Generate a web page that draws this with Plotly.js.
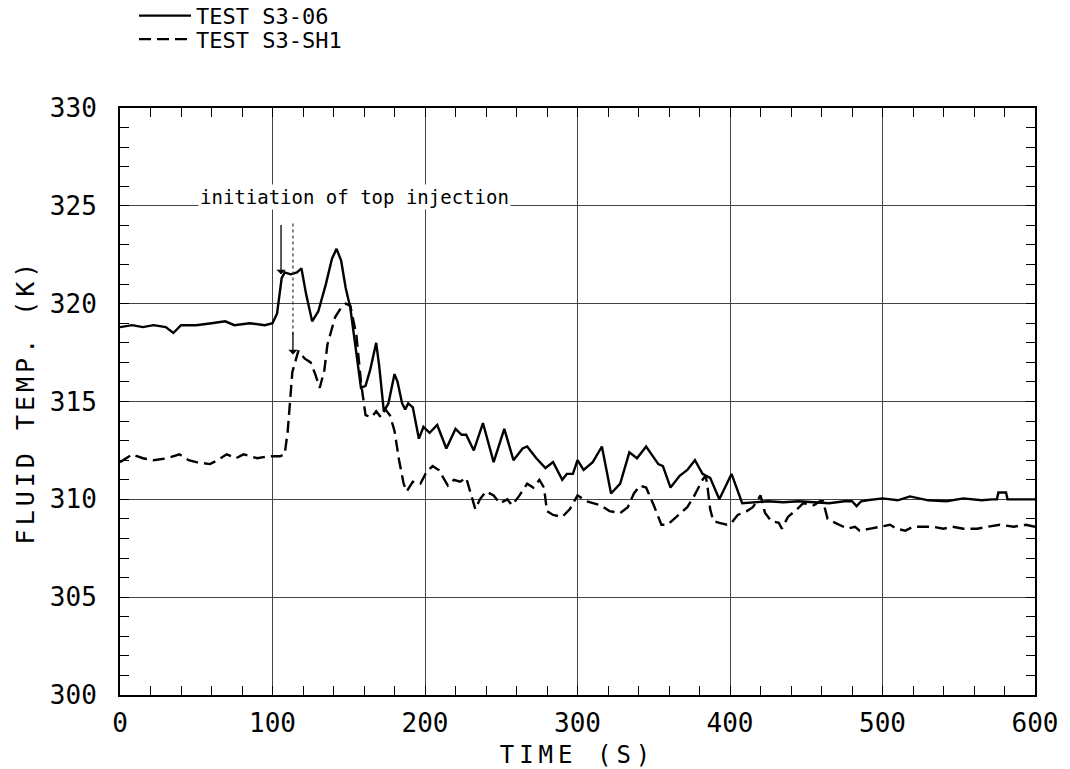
<!DOCTYPE html>
<html>
<head>
<meta charset="utf-8">
<script src="https://cdn.plot.ly/plotly-3.0.1.min.js"></script>
<style>html,body{margin:0;padding:0;background:#fff;}#chart{width:1070px;height:769px;}</style>
</head>
<body>
<div id="chart"></div>
<script>
// Series names
const seriesNames = ["TEST S3-06", "TEST S3-SH1"];

// TEST S3-06 (solid)
const timeS306 = [0, 8, 15, 22, 30, 35, 40, 50, 60, 69, 75, 85, 95, 100, 103, 106, 108, 112, 116, 119, 122, 126, 130, 135, 139, 142, 145, 148, 151, 155, 158, 161, 164, 168, 170, 173, 176, 180, 182, 185, 187, 189, 192, 196, 199, 203, 208, 214, 220, 224, 227, 232, 238, 245, 252, 258, 264, 267, 273, 279, 284, 290, 293, 297, 300, 304, 310, 316, 322, 328, 334, 339, 345, 353, 356, 361, 367, 372, 377, 382, 387, 393, 401, 408, 415, 425, 435, 445, 455, 465, 475, 480, 483, 486, 490, 500, 510, 518, 530, 542, 553, 565, 572, 575, 576, 581, 582, 590, 600];
const tempS306 = [318.8, 318.9, 318.8, 318.9, 318.8, 318.5, 318.9, 318.9, 319.0, 319.1, 318.9, 319.0, 318.9, 319.0, 319.5, 321.3, 321.6, 321.5, 321.6, 321.8, 320.5, 319.1, 319.6, 321.0, 322.3, 322.8, 322.2, 320.8, 319.8, 317.5, 315.7, 315.8, 316.6, 318.0, 316.8, 314.5, 314.9, 316.4, 316.0, 314.9, 314.6, 314.9, 314.7, 313.1, 313.7, 313.4, 313.8, 312.6, 313.6, 313.3, 313.3, 312.5, 313.9, 311.9, 313.6, 312.0, 312.6, 312.7, 312.1, 311.6, 311.9, 311.0, 311.3, 311.3, 312.0, 311.5, 311.9, 312.7, 310.3, 310.8, 312.4, 312.1, 312.7, 311.8, 311.7, 310.6, 311.2, 311.5, 312.0, 311.3, 311.1, 310.0, 311.3, 309.8, 309.85, 309.9, 309.85, 309.9, 309.85, 309.8, 309.9, 309.9, 309.65, 309.9, 309.95, 310.05, 309.95, 310.15, 309.95, 309.9, 310.05, 309.95, 310.0, 310.0, 310.35, 310.35, 310.0, 310.0, 310.0];

// TEST S3-SH1 (dashed)
const timeSH1 = [0, 8, 15, 22, 31, 39, 45, 50, 59, 64, 70, 76, 81, 90, 97, 105, 108, 110, 113, 117, 121, 125, 128, 131, 134, 136, 141, 145, 148, 151, 155, 158, 161, 165, 168, 171, 174, 177, 180, 183, 186, 188, 192, 197, 201, 205, 209, 212, 215, 219, 223, 227, 230, 233, 236, 240, 245, 249, 254, 257, 262, 267, 271, 275, 278, 280, 284, 290, 295, 300, 306, 315, 321, 328, 333, 337, 341, 345, 350, 355, 359, 365, 372, 376, 382, 384, 385, 387, 389, 393, 398, 401, 405, 411, 415, 420, 423, 427, 432, 434, 438, 444, 448, 455, 459, 461, 464, 469, 477, 482, 485, 492, 498, 505, 509, 515, 520, 527, 533, 540, 546, 553, 562, 569, 577, 586, 594, 600];
const tempSH1 = [311.9, 312.3, 312.1, 312.0, 312.1, 312.3, 312.0, 311.9, 311.8, 312.0, 312.3, 312.1, 312.3, 312.1, 312.2, 312.2, 312.3, 313.5, 316.5, 317.6, 317.2, 317.0, 316.4, 315.7, 316.6, 317.9, 319.3, 319.8, 320.0, 319.9, 318.4, 316.0, 314.3, 314.2, 314.5, 314.2, 314.6, 314.3, 313.5, 312.0, 310.8, 310.4, 310.9, 310.8, 311.4, 311.7, 311.5, 311.1, 310.7, 311.0, 310.9, 311.1, 310.3, 309.5, 310.0, 310.4, 310.2, 309.8, 310.0, 309.7, 310.2, 310.8, 310.6, 311.0, 310.6, 309.4, 309.2, 309.1, 309.5, 310.2, 309.9, 309.7, 309.4, 309.3, 309.6, 310.3, 310.7, 310.6, 309.7, 308.7, 308.7, 309.1, 309.6, 310.1, 311.0, 311.2, 310.8, 309.5, 308.9, 308.8, 308.7, 308.8, 309.2, 309.4, 309.6, 310.2, 309.3, 308.9, 308.8, 308.5, 309.1, 309.5, 309.8, 309.7, 309.9, 309.9, 309.0, 308.8, 308.5, 308.6, 308.4, 308.5, 308.6, 308.7, 308.5, 308.4, 308.6, 308.6, 308.6, 308.5, 308.6, 308.5, 308.5, 308.6, 308.7, 308.6, 308.7, 308.6];

// Axis ticks
const xTicks = [0, 100, 200, 300, 400, 500, 600];
const yTicks = [300, 305, 310, 315, 320, 325, 330];

// Annotation content
const noteText = "initiation of top injection";
const noteTime = 154, noteTemp = 325;
const arrowTimes = [105.6, 113.4];
const arrowTips = [321.5, 317.4];
const arrowStart = 324.1;

const FONT = "DejaVu Sans Mono, monospace";

const traces = [
  {x: timeS306, y: tempS306, name: seriesNames[0], type: "scatter", mode: "lines", legend: "legend",
   line: {color: "#000", width: 2.4, dash: "solid"}},
  {x: timeSH1, y: tempSH1, name: seriesNames[1], type: "scatter", mode: "lines", legend: "legend2",
   line: {color: "#000", width: 2.4, dash: "12px,6px"}}
];

const legendBase = {x: 0.0153, xanchor: "left", yanchor: "middle",
  font: {family: FONT, size: 22, color: "#000"},
  bgcolor: "rgba(0,0,0,0)", itemwidth: 52, tracegroupgap: 0, borderwidth: 0};

const layout = {
  width: 1070, height: 769,
  margin: {l: 120, r: 35, t: 108, b: 74, pad: 0, autoexpand: false},
  paper_bgcolor: "#fff", plot_bgcolor: "#fff",
  font: {family: FONT, color: "#000"},
  showlegend: true,
  legend: Object.assign({}, legendBase, {y: 1.157}),
  legend2: Object.assign({}, legendBase, {y: 1.117}),
  xaxis: {range: [0, 600], tickvals: xTicks, ticktext: xTicks.map(String),
          showgrid: true, gridcolor: "#444", gridwidth: 1, zeroline: false,
          showline: true, linecolor: "#000", linewidth: 2, mirror: "ticks",
          ticks: "inside", ticklen: 9, tickwidth: 1, tickcolor: "#000",
          minor: {dtick: 20, ticks: "inside", ticklen: 9, tickcolor: "#000", tickwidth: 1, showgrid: false},
          tickfont: {family: FONT, size: 26, color: "#000"}, ticklabelstandoff: 4,
          title: {text: '<span style="letter-spacing:5px">TIME (S)</span>', font: {family: FONT, size: 24, color: "#000"}, standoff: 10}},
  yaxis: {range: [300, 330], tickvals: yTicks, ticktext: yTicks.map(String),
          showgrid: true, gridcolor: "#444", gridwidth: 1, zeroline: false,
          showline: true, linecolor: "#000", linewidth: 2, mirror: "ticks",
          ticks: "inside", ticklen: 9, tickwidth: 1, tickcolor: "#000",
          minor: {dtick: 1, ticks: "inside", ticklen: 9, tickcolor: "#000", tickwidth: 1, showgrid: false},
          tickfont: {family: FONT, size: 26, color: "#000"}, ticklabelstandoff: 16,
          title: {text: '<span style="letter-spacing:4px">FLUID TEMP. (K)</span>', font: {family: FONT, size: 25, color: "#000"}, standoff: 8}},
  shapes: [
    {type: "line", xref: "x", yref: "y", x0: arrowTimes[1], x1: arrowTimes[1], y0: arrowStart, y1: 318.4,
     line: {color: "#333", width: 1.2, dash: "dot"}}
  ],
  annotations: [
    {x: noteTime, y: noteTemp, xref: "x", yref: "y", text: noteText, showarrow: false,
     yshift: 9, bgcolor: "#fff", borderpad: 1, font: {family: FONT, size: 19, color: "#000"}},
    {x: arrowTimes[0], y: arrowTips[0], ax: arrowTimes[0], ay: arrowStart, xref: "x", yref: "y",
     axref: "x", ayref: "y", text: "", showarrow: true, arrowhead: 1, arrowsize: 1.2, arrowwidth: 1.3, arrowcolor: "#000"},
    {x: arrowTimes[1], y: arrowTips[1], ax: arrowTimes[1], ay: 318.6, xref: "x", yref: "y",
     axref: "x", ayref: "y", text: "", showarrow: true, arrowhead: 1, arrowsize: 1.2, arrowwidth: 1.3, arrowcolor: "#000"}
  ]
};

Plotly.newPlot("chart", traces, layout, {displayModeBar: false, staticPlot: true});
</script>
</body>
</html>
